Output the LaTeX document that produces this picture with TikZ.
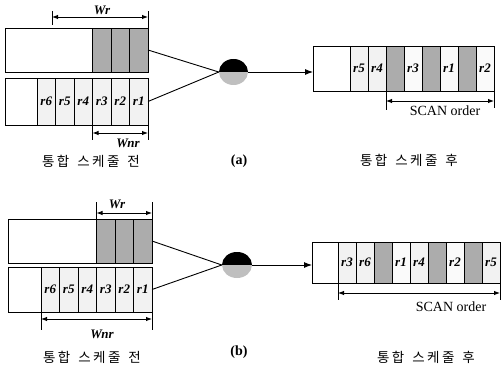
\documentclass[tikz,border=0pt]{standalone}
\usepackage{fontspec}
\setmainfont{Liberation Serif}
\newfontfamily\kr[LetterSpace=18]{Noto Sans CJK KR}
\usetikzlibrary{arrows.meta,shapes.geometric}
\begin{document}
\begin{tikzpicture}[x=1pt,y=-1pt,
 cell/.style={draw, line width=0.9pt, inner sep=0pt, outer sep=0pt, anchor=north west,
   font=\bfseries\itshape\fontsize{13}{13}\selectfont},
 ecell/.style={cell, fill=white},
 lcell/.style={cell, fill=gray!10},
 wcell/.style={cell, fill=gray!4},
 dcell/.style={cell, fill=gray!65},
 dimarrow/.style={line width=0.9pt, {Latex[length=6pt,width=4.5pt]}-{Latex[length=6pt,width=4.5pt]}},
 dimtick/.style={line width=0.8pt},
 feed/.style={line width=0.9pt},
 flow/.style={line width=0.9pt, -{Latex[length=8pt,width=6pt]}},
 mixer/.style={ellipse, inner sep=0pt, fill=gray!50,
   path picture={\fill[black] (path picture bounding box.north west) rectangle (path picture bounding box.east);}},
 wlab/.style={font=\bfseries\itshape\fontsize{13}{13}\selectfont, inner sep=0pt},
 captext/.style={font=\kr\fontsize{13.5}{13.5}\selectfont, inner sep=0pt},
 sublab/.style={font=\bfseries\fontsize{14}{14}\selectfont, inner sep=0pt},
 scan/.style={font=\fontsize{14}{14}\selectfont, inner sep=0pt},
]
\useasboundingbox (0,0) rectangle (501,369);

% ================= (a) =================
% left, row 1
\node[ecell, minimum width=87.5pt, minimum height=44pt] (a1e) at (5,28) {};
\foreach \n [count=\k from 0] in {1,2,3}
  \node[dcell, minimum width=18.5pt, minimum height=44pt] (a1g\n) at ({92.5+18.5*\k},28) {};
% left, row 2
\node[ecell, minimum width=32pt, minimum height=47pt] (a2e) at (5,78) {};
\foreach \n [count=\k from 0] in {6,5,4,3,2,1}
  \node[lcell, minimum width=18.5pt, minimum height=47pt] (a2r\n) at ({37+18.5*\k},78) {r\n};

% Wr (a)
\coordinate (awTL) at (52,11);
\coordinate (awBL) at (52,25);
\coordinate (awTR) at (148,11);
\coordinate (awL) at (52,17);
\coordinate (awR) at (148,17);
\draw[dimtick] (awTL) -- (awBL);
\draw[dimtick] (a1g3.north east) -- (awTR);
\draw[dimarrow] (awL) -- (awR);
\node[wlab] (awr) at (102,10) {W\kern-0.5pt r};

% Wnr (a)
\draw[dimtick] (a2r3.south west) -- ++(0,15);
\draw[dimtick] (a2r1.south east) -- ++(0,15);
\draw[dimarrow] ([yshift=-8pt]a2r3.south west) -- ([yshift=-8pt]a2r1.south east);
\node[wlab] (awnr) at (128,143) {W\kern-0.5pt nr};

% mixer (a)
\node[mixer, minimum width=29pt, minimum height=26pt] (amix) at (233.5,72) {};
\draw[feed] (a1g3.east) -- (amix.west);
\draw[feed] (a2r1.east) -- (amix.west);

% right (a)
\node[ecell, minimum width=37pt, minimum height=45pt] (ar0) at (313,46) {};
\foreach \n/\t/\l [count=\k from 0] in {1/lcell/r5, 2/lcell/r4, 3/dcell/, 4/wcell/r3, 5/dcell/, 6/wcell/r1, 7/dcell/, 8/wcell/r2}
  \node[\t, minimum width=18pt, minimum height=45pt] (ar\n) at ({350+18*\k},46) {\l};
\draw[flow] (amix.east) -- (amix.east -| ar0.west);

% SCAN order (a)
\draw[dimtick] (ar3.south west) -- ++(0,19);
\draw[dimtick] (ar8.south east) -- ++(0,17);
\draw[dimarrow] ([yshift=-10pt]ar3.south west) -- ([yshift=-10pt]ar8.south east);
\node[scan] (ascan) at (445,111) {SCAN order};

% captions (a)
\node[captext] (acapL) at (91,161) {통합\hspace{8pt}스케줄\hspace{8pt}전};
\node[sublab] (alab) at (239,161) {(a)};
\node[captext] (acapR) at (409,160) {통합\hspace{8pt}스케줄\hspace{8pt}후};

% ================= (b) =================
% left, row 1
\node[ecell, minimum width=88.5pt, minimum height=44pt] (b1e) at (8,219) {};
\foreach \n [count=\k from 0] in {1,2,3}
  \node[dcell, minimum width=18.5pt, minimum height=44pt] (b1g\n) at ({96.5+18.5*\k},219) {};
% left, row 2
\node[ecell, minimum width=33pt, minimum height=45pt] (b2e) at (8,267) {};
\foreach \n [count=\k from 0] in {6,5,4,3,2,1}
  \node[lcell, minimum width=18.5pt, minimum height=45pt] (b2r\n) at ({41+18.5*\k},267) {r\n};

% Wr (b)
\draw[dimtick] (b1g1.north west) -- ++(0,-17);
\draw[dimtick] (b1g3.north east) -- ++(0,-17);
\draw[dimarrow] ([yshift=6pt]b1g1.north west) -- ([yshift=6pt]b1g3.north east);
\node[wlab] (bwr) at (117,204) {W\kern-0.5pt r};

% Wnr (b)
\draw[dimtick] (b2r6.south west) -- ++(0,18);
\draw[dimtick] (b2r1.south east) -- ++(0,18);
\draw[dimarrow] ([yshift=-7pt]b2r6.south west) -- ([yshift=-7pt]b2r1.south east);
\node[wlab] (bwnr) at (102,334) {W\kern-0.5pt nr};

% mixer (b)
\node[mixer, minimum width=30pt, minimum height=26pt] (bmix) at (237,265) {};
\draw[feed] (b1g3.east) -- (bmix.west);
\draw[feed] (b2r1.east) -- (bmix.west);

% right (b)
\node[ecell, minimum width=26pt, minimum height=41pt] (br0) at (312,242) {};
\foreach \n/\t/\l [count=\k from 0] in {1/lcell/r3, 2/lcell/r6, 3/dcell/, 4/wcell/r1, 5/lcell/r4, 6/dcell/, 7/wcell/r2, 8/dcell/, 9/lcell/r5}
  \node[\t, minimum width=18pt, minimum height=41pt] (br\n) at ({338+18*\k},242) {\l};
\draw[flow] (bmix.east) -- (bmix.east -| br0.west);

% SCAN order (b)
\draw[dimtick] (br1.south west) -- ++(0,17);
\draw[dimtick] (br9.south east) -- ++(0,17);
\draw[dimarrow] ([yshift=-10pt]br1.south west) -- ([yshift=-10pt]br9.south east);
\node[scan] (bscan) at (451,307) {SCAN order};

% captions (b)
\node[captext] (bcapL) at (92,357) {통합\hspace{8pt}스케줄\hspace{8pt}전};
\node[sublab] (blab) at (239,352) {(b)};
\node[captext] (bcapR) at (426,357) {통합\hspace{8pt}스케줄\hspace{8pt}후};
\end{tikzpicture}
\end{document}
